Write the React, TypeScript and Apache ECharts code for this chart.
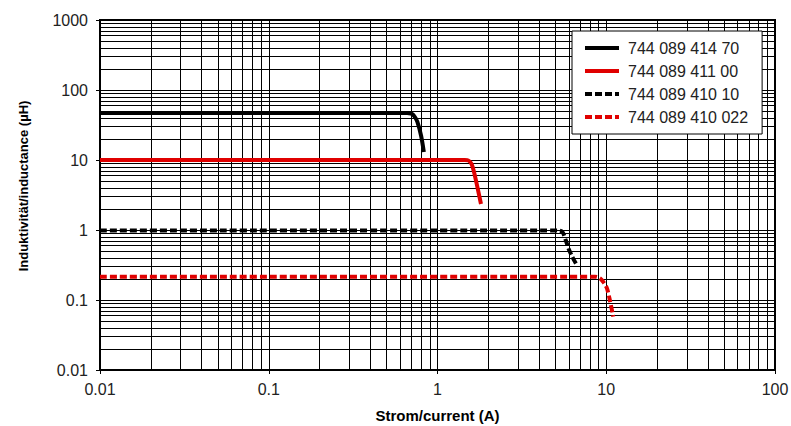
import React, { useEffect, useRef } from "react";
import * as echarts from "echarts";

// Series values: [current (A), inductance (µH)]
const names = ["744 089 414 70", "744 089 411 00", "744 089 410 10", "744 089 410 022"];
const s41470: [number, number][] = [
  [0.01, 47], [0.66, 47], [0.7, 46], [0.73, 42], [0.76, 35], [0.8, 22], [0.83, 13],
];
const s41100: [number, number][] = [
  [0.01, 10], [1.45, 10], [1.53, 9.8], [1.59, 8.8], [1.65, 6.6], [1.72, 4.2], [1.81, 2.35],
];
const s41010: [number, number][] = [
  [0.01, 0.98], [5.2, 0.98], [5.5, 0.94], [5.75, 0.72], [6.0, 0.53], [6.3, 0.41], [6.62, 0.33],
];
const s410022: [number, number][] = [
  [0.01, 0.215], [8.6, 0.215], [9.2, 0.204], [9.7, 0.175], [10.1, 0.147], [10.5, 0.1], [11.0, 0.058],
];

// grid decades and minor multipliers
const xDecades = [0.01, 0.1, 1, 10];
const yDecades = [0.01, 0.1, 1, 10, 100];
const minorSteps = [2, 3, 4, 5, 6, 7, 8, 9];

const FONT = "Liberation Sans, Arial, sans-serif";

export default function App() {
  const ref = useRef<HTMLDivElement>(null);
  useEffect(() => {
    if (!ref.current) return;
    const chart = echarts.init(ref.current, undefined, { renderer: "svg" });
    const minorX = xDecades.flatMap((d) => minorSteps.map((m) => ({ xAxis: +(d * m).toPrecision(3) })));
    const minorY = yDecades.flatMap((d) => minorSteps.map((m) => ({ yAxis: +(d * m).toPrecision(3) })));
    const fmt = (v: number) => String(+Number(v).toPrecision(3));
    const curve = (name: string, data: [number, number][], color: string, dashed: boolean) => ({
      name,
      type: "line",
      data,
      smooth: 0.25,
      symbol: "none",
      showSymbol: false,
      z: 6,
      lineStyle: { color, width: 4, type: dashed ? [7, 3] : "solid" },
      itemStyle: { color },
    });
    chart.setOption({
      animation: false,
      backgroundColor: "#fff",
      textStyle: { fontFamily: FONT },
      grid: {
        left: 100,
        right: 16,
        top: 20,
        bottom: 56,
        show: true,
        borderColor: "#000",
        borderWidth: 2,
        containLabel: false,
        outerBoundsMode: "none",
      },
      legend: {
        data: names,
        orient: "vertical",
        left: 572,
        top: 31,
        z: 20,
        backgroundColor: "#fff",
        borderColor: "#000",
        borderWidth: 1,
        padding: [9, 14, 9, 11],
        itemWidth: 34,
        itemHeight: 16,
        itemGap: 7,
        itemStyle: { opacity: 0 },
        lineStyle: { width: 4 },
        textStyle: { fontFamily: FONT, fontSize: 16, color: "#222", lineHeight: 16, padding: [0, 0, 0, 4] },
      },
      xAxis: {
        type: "log",
        logBase: 10,
        min: 0.01,
        max: 100,
        name: "Strom/current (A)",
        nameLocation: "middle",
        nameGap: 38,
        nameTextStyle: { fontFamily: FONT, fontSize: 15, fontWeight: "bold", color: "#000" },
        axisLine: { show: true, lineStyle: { color: "#000", width: 2 } },
        axisTick: { show: true, length: 4, lineStyle: { color: "#000" } },
        axisLabel: { fontFamily: FONT, fontSize: 16, color: "#222", margin: 11, formatter: fmt },
        splitLine: { show: true, lineStyle: { color: "#000", width: 1 } },
      },
      yAxis: {
        type: "log",
        logBase: 10,
        min: 0.01,
        max: 1000,
        name: "Induktivität/inductance (µH)",
        nameLocation: "middle",
        nameGap: 70,
        nameTextStyle: {
          fontFamily: FONT,
          fontSize: 13,
          fontWeight: "bold",
          color: "#000",
          padding: [0, 0, 0, 18],
        },
        axisLine: { show: true, lineStyle: { color: "#000", width: 2 } },
        axisTick: { show: true, length: 4, lineStyle: { color: "#000" } },
        axisLabel: { fontFamily: FONT, fontSize: 16, color: "#222", margin: 12, formatter: fmt },
        splitLine: { show: true, lineStyle: { color: "#000", width: 1 } },
      },
      series: [
        {
          name: "grid",
          type: "line",
          data: [[0.01, 0.01]],
          symbol: "none",
          silent: true,
          z: 1,
          lineStyle: { opacity: 0 },
          markLine: {
            silent: true,
            z: 2,
            symbol: ["none", "none"],
            label: { show: false },
            lineStyle: { color: "#000", width: 1, type: "solid" },
            emphasis: { disabled: true },
            data: [...minorX, ...minorY],
          },
        },
        curve(names[0], s41470, "#000", false),
        curve(names[1], s41100, "#e00000", false),
        curve(names[2], s41010, "#000", true),
        curve(names[3], s410022, "#e00000", true),
      ],
    });
    return () => chart.dispose();
  }, []);
  return <div ref={ref} style={{ position: "fixed", left: 0, top: 0, width: 791, height: 426 }} />;
}
